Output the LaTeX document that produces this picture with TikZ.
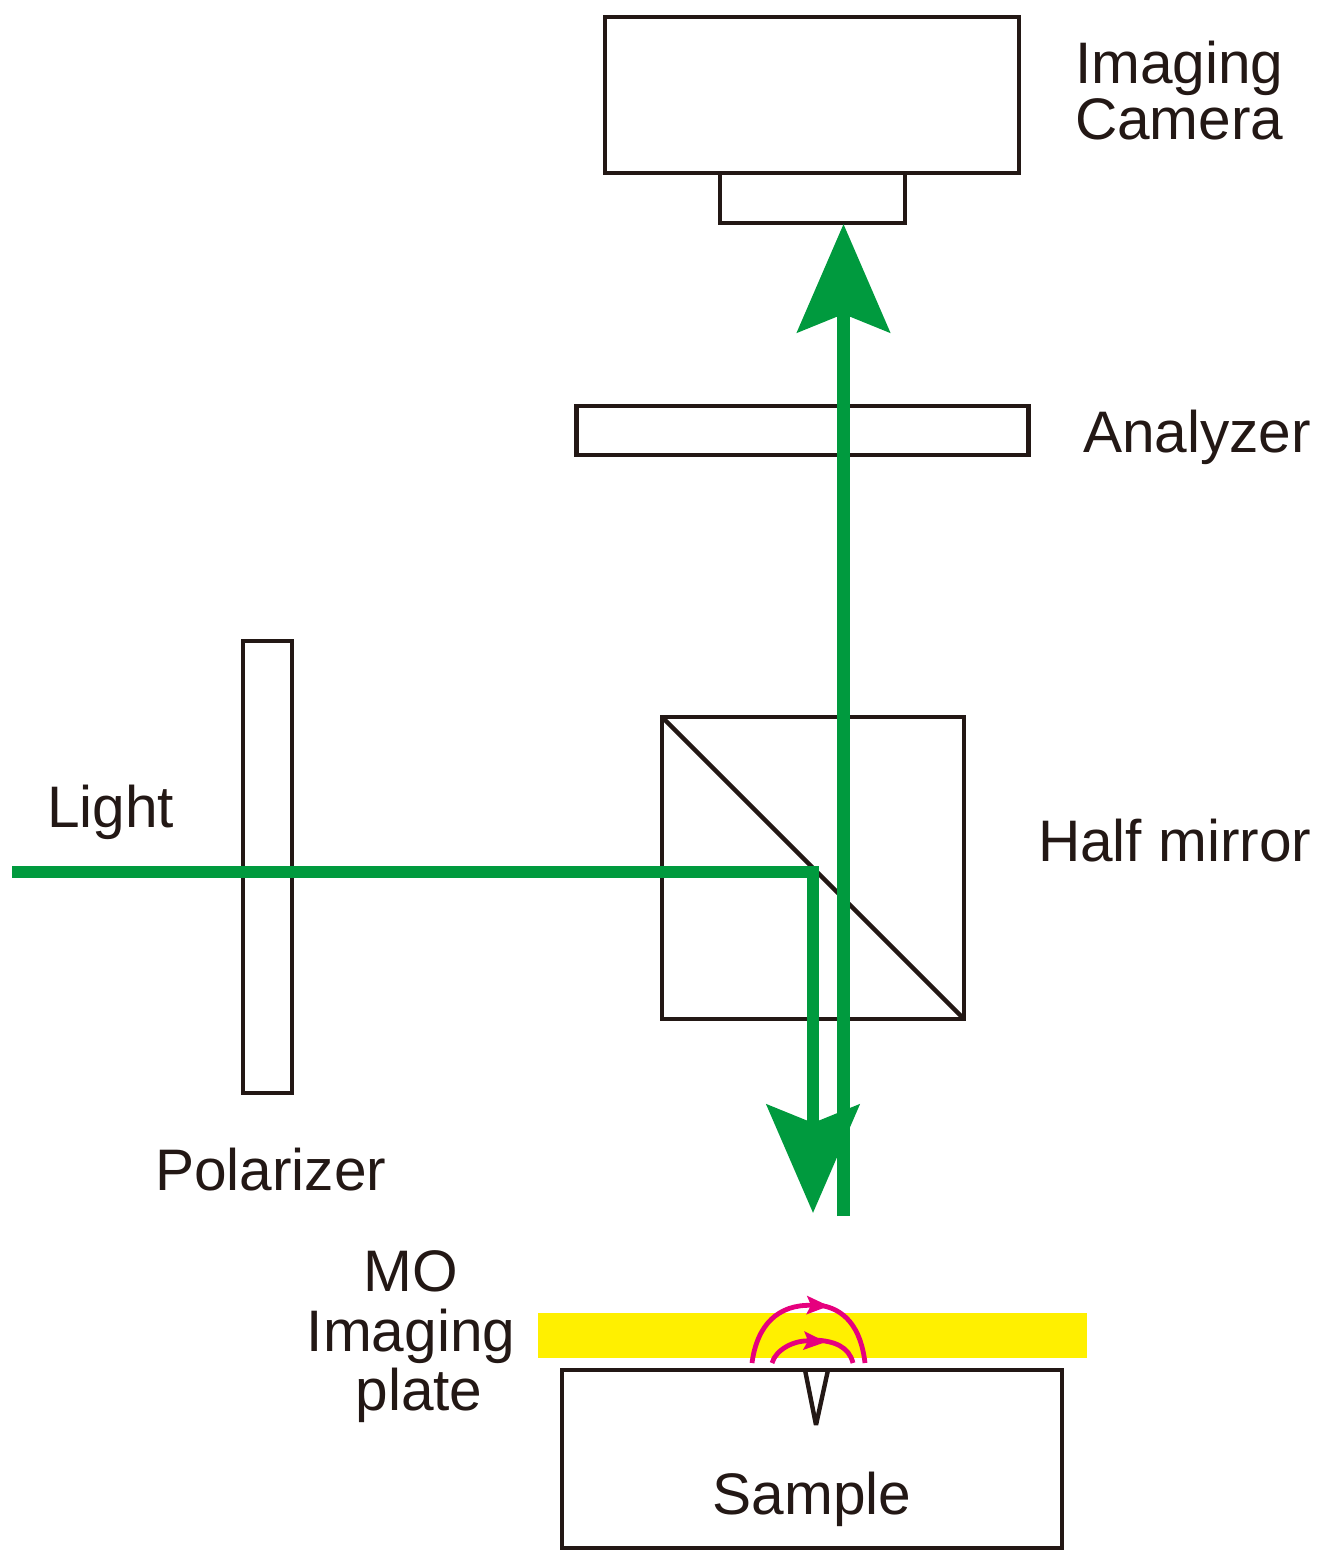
\documentclass[tikz,border=0pt]{standalone}
\usepackage{fontspec}
\setmainfont{Liberation Sans}
\usetikzlibrary{arrows.meta}
\definecolor{ink}{HTML}{231815}
\definecolor{beam}{HTML}{009A3E}
\definecolor{plate}{HTML}{FFF000}
\definecolor{fieldline}{HTML}{E6007E}
\tikzset{
  box/.style 2 args={draw=ink,line width=2.2pt,fill=none,inner sep=0pt,outer sep=0pt,minimum width=#1*0.5pt,minimum height=#2*0.5pt},
  lbl/.style={text=ink,font=\fontsize{29.3}{29.3}\selectfont,inner sep=0pt,outer sep=0pt,anchor=base west},
  lblc/.style={lbl,anchor=base},
  beamline/.style={draw=beam,line width=6.3pt,line cap=butt,line join=miter},
  bighead/.style={-{Stealth[length=54pt,width=46pt,inset=9pt]}},
  fieldarc/.style={draw=fieldline,line width=2.4pt},
  fieldhead/.style={-{Stealth[length=11pt,width=9pt,inset=2pt]}}
}
\begin{document}
\begin{tikzpicture}[x=0.5pt,y=-0.5pt]
\useasboundingbox (0,0) rectangle (1326,1563);
% optical components
\node[box={414}{156}] (camera) at (812,95) {};
\node[box={185}{50}] (lens) at (812.5,198) {};
\node[box={452}{49}] (analyzer) at (802.5,430.5) {};
\node[box={49}{452}] (polarizer) at (267.5,867) {};
\node[box={302}{302}] (cube) at (813,868) {};
\node[box={500}{178}] (sample) at (812,1459) {};
\node[fill=plate,inner sep=0pt,minimum width=274.5pt,minimum height=22.5pt] (moplate) at (812.75,1335.5) {};
\draw[ink,line width=2.2pt] (cube.north west) -- (cube.south east);
% crack in the sample
\coordinate (crackL) at (805,1370);
\coordinate (crackR) at (828,1370);
\coordinate (crackT) at (816,1425);
\draw[ink,line width=2.2pt,line join=bevel] (crackL) -- (crackT) -- (crackR);
% field lines
\coordinate (oL) at (752,1363);
\coordinate (oT) at (829,1306);
\coordinate (oM) at (818,1305);
\coordinate (oR) at (865,1363);
\coordinate (iL) at (772,1363);
\coordinate (iT) at (826,1342);
\coordinate (iM) at (815,1340);
\coordinate (iR) at (853,1363);
\draw[fieldarc,fieldhead] (oL) .. controls (757,1325) and (778,1304) .. (oT);
\draw[fieldarc] (oM) .. controls (845,1308) and (861,1328) .. (oR);
\draw[fieldarc,fieldhead] (iL) .. controls (776,1349) and (795,1340) .. (iT);
\draw[fieldarc] (iM) .. controls (835,1341) and (849,1347) .. (iR);
% beams
\coordinate (lightIn) at (12,872);
\coordinate (downTip) at (813,1213);
\coordinate (upStart) at (843.5,1216);
\coordinate (upTip) at (843.5,224);
\draw[beamline,bighead] (lightIn) -| (downTip);
\draw[beamline,bighead] (upStart) -- (upTip);
% labels
\node[lbl] (t1) at (1075,83) {Imaging};
\node[lbl] (t2) at (1075,139.5) {Camera};
\node[lbl] (t3) at (1083,452) {Analyzer};
\node[lbl] (t4) at (1038,861.5) {Half mirror};
\node[lbl] (t5) at (47,827.5) {Light};
\node[lbl] (t6) at (155,1190) {Polarizer};
\node[lblc] (t7) at (411,1291.5) {MO};
\node[lblc] (t8) at (411,1351) {Imaging};
\node[lblc] (t9) at (419,1410) {plate};
\node[lblc] (t10) at (812,1514) {Sample};
\end{tikzpicture}
\end{document}
